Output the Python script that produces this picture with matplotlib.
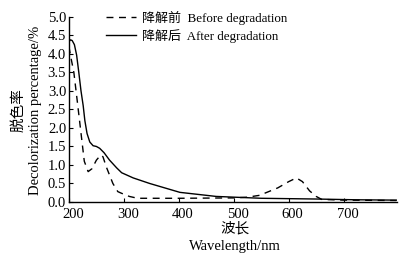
import matplotlib
matplotlib.use("Agg")
import matplotlib.pyplot as plt
import matplotlib.transforms as mtransforms

fam = ['Liberation Serif', 'Noto Sans CJK SC']
plt.rcParams['font.family'] = fam

# Data
wl_before = [200, 203, 209, 215, 222, 228, 235, 242, 250, 258, 262, 268, 280, 289, 295, 310, 325, 400, 500, 525, 547, 580, 600, 614, 625, 638, 650, 660, 700, 796]
before = [4.2, 3.95, 3.5, 2.75, 1.86, 1.1, 0.82, 0.9, 1.13, 1.27, 1.22, 0.95, 0.5, 0.28, 0.24, 0.15, 0.1, 0.1, 0.11, 0.13, 0.18, 0.38, 0.55, 0.65, 0.55, 0.3, 0.15, 0.07, 0.05, 0.04]

wl_after = [200, 203, 206, 210, 214, 218, 222, 226, 229, 233, 238, 244, 250, 256, 264, 274, 287, 296, 317, 347, 402, 468, 550, 650, 720, 796]
after = [4.33, 4.38, 4.36, 4.25, 3.97, 3.5, 3.0, 2.6, 2.2, 1.85, 1.62, 1.52, 1.5, 1.45, 1.33, 1.13, 0.92, 0.79, 0.65, 0.5, 0.26, 0.15, 0.1, 0.08, 0.06, 0.05]

xticks = [200, 300, 400, 500, 600, 700]
yticks = [0.0, 0.5, 1.0, 1.5, 2.0, 2.5, 3.0, 3.5, 4.0, 4.5, 5.0]

fig = plt.figure(figsize=(4.03, 2.56), dpi=100)
ax = fig.add_axes([0.171, 0.211, 0.814, 0.723])
ax.plot(wl_before, before, color='black', lw=1.0, ls=(0, (5, 4)), label='降解前  Before degradation')
ax.plot(wl_after, after, color='black', lw=1.0, ls='-', label='降解后  After degradation')
ax.set_xlim(200, 797)
ax.set_ylim(0, 5.0)
ax.set_xticks(xticks)
ax.set_yticks(yticks)
ax.set_yticklabels([f'{v:.1f}' for v in yticks])
ax.tick_params(direction='in', length=3, width=0.8, labelsize=10.5, pad=2)
ax.tick_params(axis='x', pad=4)
for s in ['top', 'right']:
    ax.spines[s].set_visible(False)
for s in ['left', 'bottom']:
    ax.spines[s].set_linewidth(1.0)

# tick labels in the reference sit slightly right of their ticks
off = mtransforms.ScaledTranslation(4 / 100, 0, fig.dpi_scale_trans)
for lab in ax.get_xticklabels():
    lab.set_transform(lab.get_transform() + off)

leg = ax.legend(loc='upper left', bbox_to_anchor=(0.098, 1.06), frameon=False, fontsize=9.4,
                handlelength=2.3, handletextpad=0.4, labelspacing=0.3, borderaxespad=0)

fig.text(0.045, 0.57, '脱色率', rotation=90, ha='center', va='center', fontsize=10.5, family=['Noto Sans CJK SC'])
fig.text(0.088, 0.57, 'Decolorization percentage/%', rotation=90, ha='center', va='center', fontsize=10.5)
fig.text(0.583, 0.109, '波长', ha='center', va='center', fontsize=10.5, family=['Noto Sans CJK SC'])
fig.text(0.583, 0.039, 'Wavelength/nm', ha='center', va='center', fontsize=10.5)

fig.savefig('out.png', dpi=100)
